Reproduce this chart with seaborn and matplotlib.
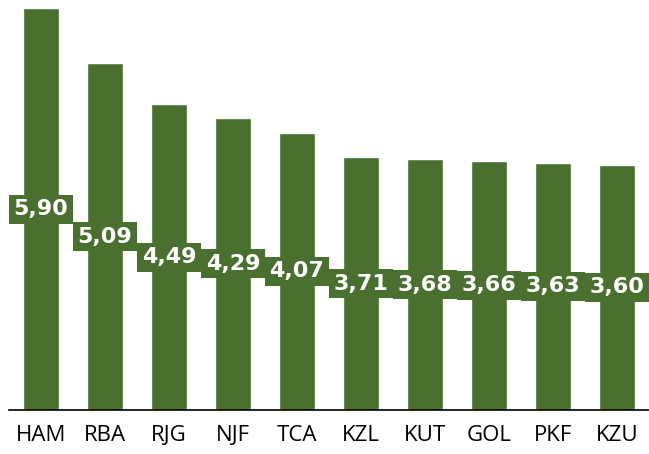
import matplotlib
matplotlib.use("Agg")
import matplotlib.pyplot as plt
import seaborn as sns
import pandas as pd

categories = ["HAM", "RBA", "RJG", "NJF", "TCA", "KZL", "KUT", "GOL", "PKF", "KZU"]
values = [5.90, 5.09, 4.49, 4.29, 4.07, 3.71, 3.68, 3.66, 3.63, 3.60]

sns.set_style("white")
plt.rcParams['font.family'] = ['Open Sans', 'DejaVu Sans']

color = "#4a7030"
df = pd.DataFrame({"cat": categories, "val": values})

fig = plt.figure(figsize=(6.49, 4.54), dpi=100)
ax = fig.add_axes([9/649, 44/454, 640/649, 410/454])
sns.barplot(data=df, x="cat", y="val", color=color, saturation=1, width=0.55, ax=ax)

for i, v in enumerate(values):
    ax.text(i, v / 2, f"{v:.2f}".replace(".", ","), ha="center", va="center",
            fontsize=16, fontweight="bold", color="white", family="DejaVu Sans",
            bbox=dict(facecolor=color, edgecolor="none", boxstyle="square,pad=0.2"))

ax.set_xlim(-0.5, 9.5)
ax.set_ylim(0, 6.02)
ax.set_xlabel("")
ax.set_ylabel("")
ax.set_yticks([])
for s in ["top", "right", "left"]:
    ax.spines[s].set_visible(False)
ax.spines["bottom"].set_color("black")
ax.spines["bottom"].set_linewidth(1.2)
ax.tick_params(axis="x", length=0, labelsize=16, pad=11, colors="black")

fig.savefig("out.png", dpi=100)
